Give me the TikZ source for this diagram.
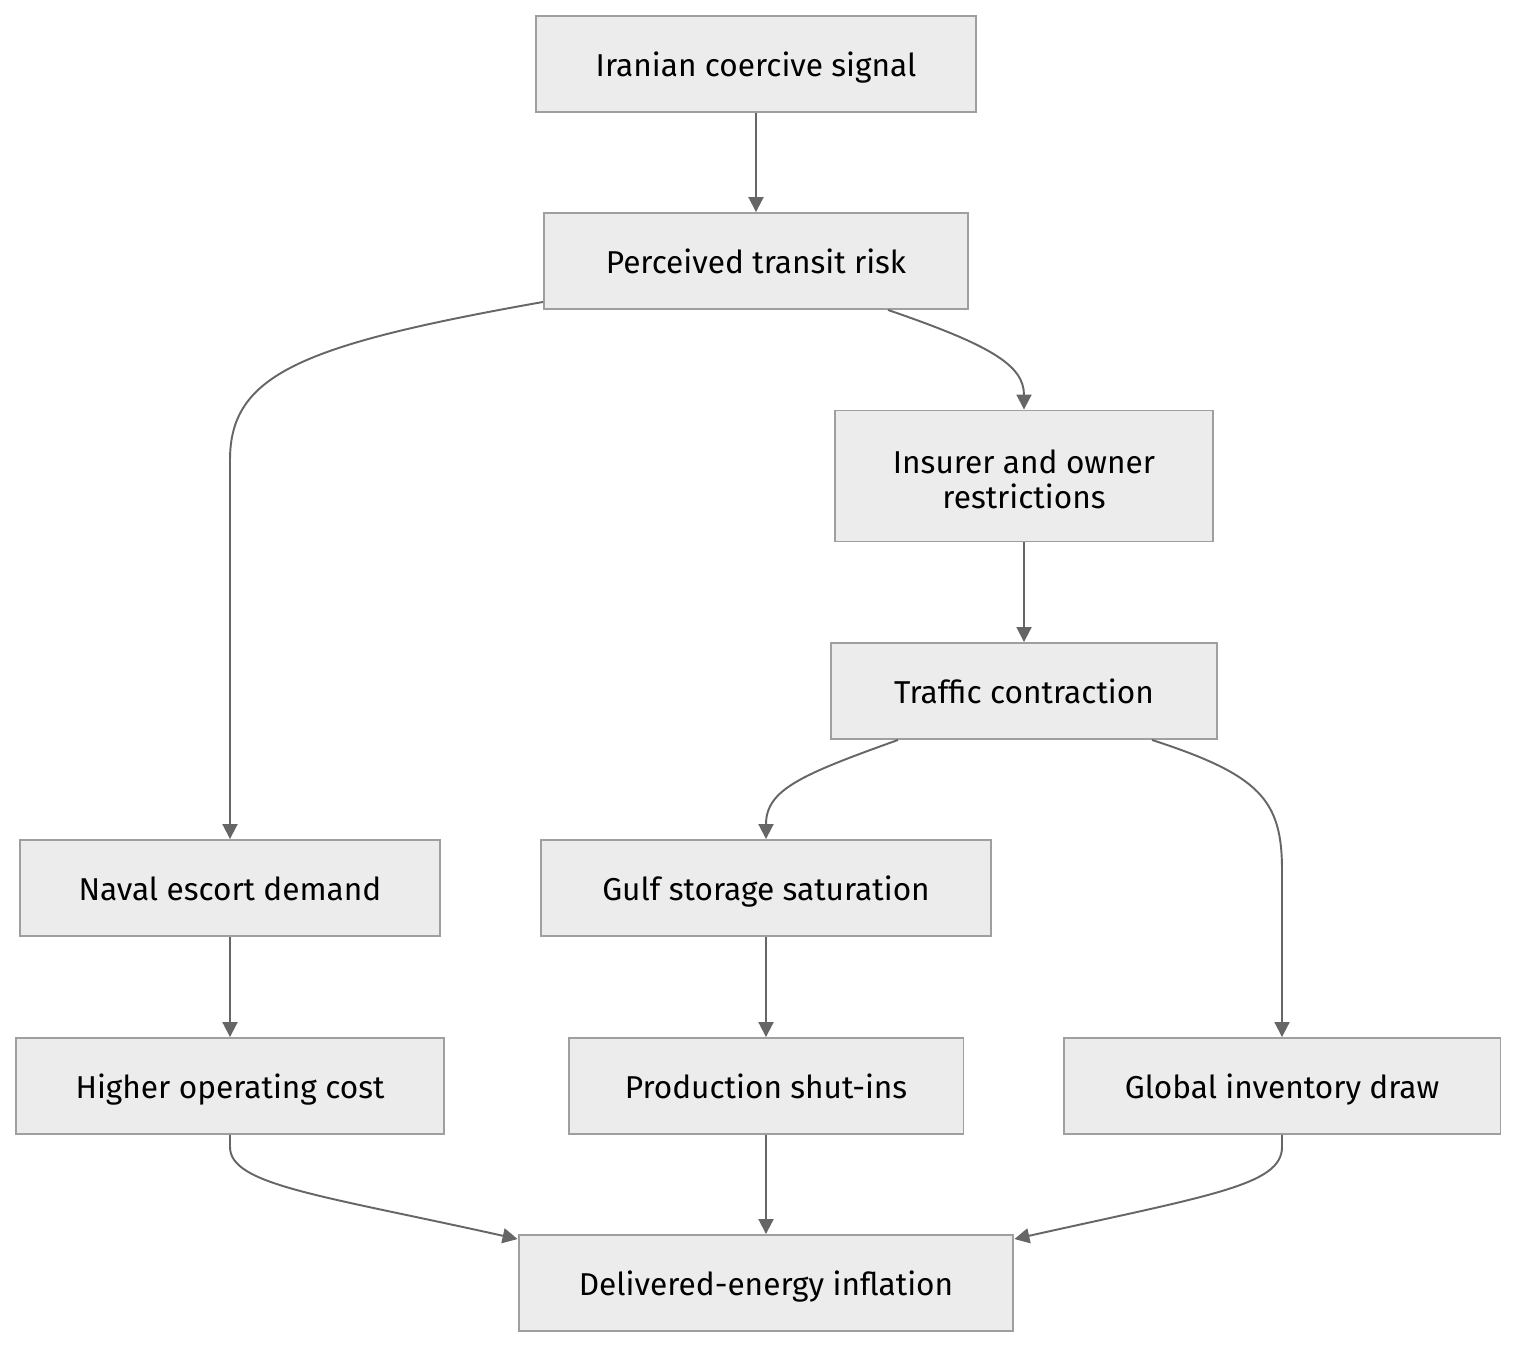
\documentclass[tikz,border=0pt]{standalone}
\usepackage{fontspec}
\setmainfont{Fira Sans}
\usetikzlibrary{arrows.meta,calc}
\definecolor{boxfill}{HTML}{ECECEC}
\definecolor{boxline}{HTML}{9F9F9F}
\definecolor{edgecol}{HTML}{666666}

\begin{document}
\begin{tikzpicture}[x=0.02cm,y=-0.02cm,
	box/.style={draw=boxline,fill=boxfill,line width=1.1pt,inner sep=0pt,minimum width=#1,minimum height=1.92cm,align=center,text height=14pt,text depth=0pt,font=\fontsize{18}{20}\selectfont},
	arr/.style={draw=edgecol,line width=1.1pt,-{Triangle[length=0.3cm,width=0.3cm]}}]
	\useasboundingbox (0,0) rectangle (1518,1349);
	\node[box=8.8cm] (sig) at (756,64) {Iranian coercive signal};
	\node[box=8.48cm] (risk) at (756,261) {Perceived transit risk};
	\node[box=7.56cm,minimum height=2.62cm,text height=37pt] (ins) at (1024,476) {Insurer and owner\\restrictions};
	\node[box=7.72cm] (traf) at (1024,691) {Traffic contraction};
	\node[box=8.4cm] (nav) at (230,888) {Naval escort demand};
	\node[box=9cm] (stor) at (766,888) {Gulf storage saturation};
	\node[box=8.56cm] (cost) at (230,1086) {Higher operating cost};
	\node[box=7.9cm] (shut) at (766,1086) {Production shut-ins};
	\node[box=8.74cm] (inv) at (1282,1086) {Global inventory draw};
	\node[box=9.9cm] (infl) at (766,1283) {Delivered-energy inflation};
	
	\draw[arr] (sig) -- (risk);
	\draw[arr] ($(risk.south west)+(0,-8)$) .. controls (300,345) and (230,375) .. (230,460) -- (nav.north);
	\draw[arr] ($(risk.south)+(132,0)$) .. controls (990,345) and (1024,365) .. (ins.north);
	\draw[arr] (ins) -- (traf);
	\draw[arr] ($(traf.south)+(-126,0)$) .. controls (800,775) and (766,790) .. (stor.north);
	\draw[arr] ($(traf.south)+(128,0)$) .. controls (1260,775) and (1282,800) .. (1282,870) -- (inv.north);
	\draw[arr] (nav) -- (cost);
	\draw[arr] (stor) -- (shut);
	\draw[arr] (shut) -- (infl);
	\draw[arr] (cost.south) -- ++(0,12) .. controls (230,1185) and (320,1195) .. ($(infl.north west)+(0,5)$);
	\draw[arr] (inv.south) -- ++(0,12) .. controls (1282,1185) and (1212,1195) .. ($(infl.north east)+(0,5)$);
\end{tikzpicture}
\end{document}
